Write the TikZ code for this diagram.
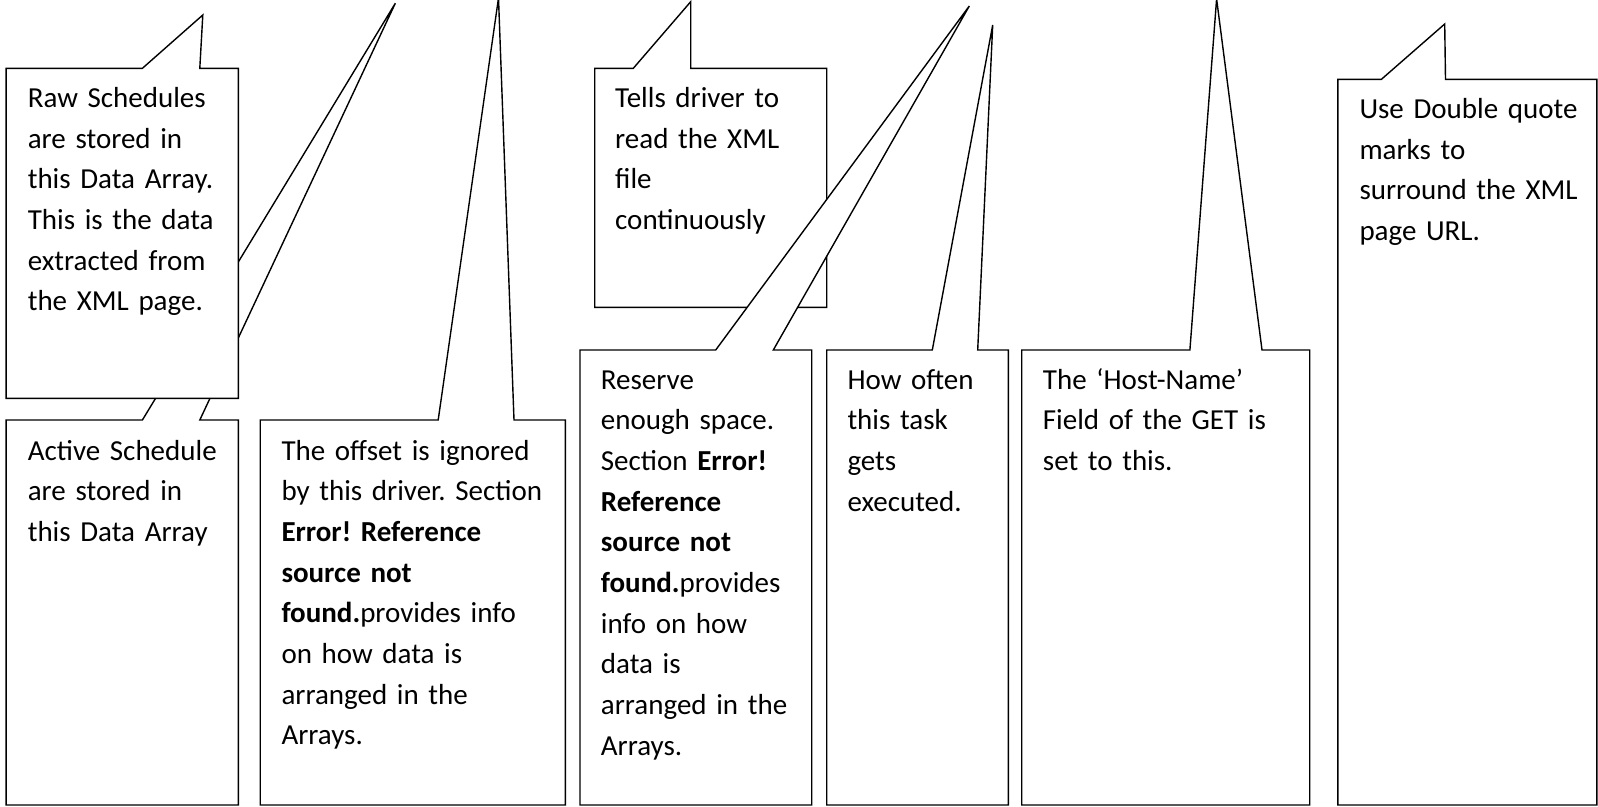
\documentclass[tikz,border=0pt]{standalone}
\usepackage{fontspec}
\setmainfont{Carlito}
\frenchspacing

\tikzset{
  bulle/.style={draw=black, fill=white, line width=1.4pt, line join=miter},
  texte/.style={anchor=base west, inner sep=0pt, align=left, text width=#1,
                font=\fontsize{29}{40.7}\selectfont},
}

\begin{document}
\begin{tikzpicture}[x=1pt, y=-1pt]

 \useasboundingbox (0,0) rectangle (1598,806);

 %%%%%%%%%% Pointes des bulles %%%%%%%%%%
 \coordinate (pActive) at (395.3,3.3);
 \coordinate (pRaw)    at (202.8,15);
 \coordinate (pOffset) at (498.5,-2);
 \coordinate (pTells)  at (690.7,1.7);
 \coordinate (pReserve) at (969.3,6);
 \coordinate (pHow)    at (992.7,25);
 \coordinate (pHost)   at (1216.6,-1);
 \coordinate (pUse)    at (1444.7,24);

 %%%%%%%%%% Active Schedule %%%%%%%%%%
 \draw [bulle] (6.1,420) -- (142.4,420) -- (pActive) -- (199.8,420) -- (238.4,420)
   -- (238.4,805) -- (6.1,805) -- cycle;
 \node [texte=205] (active) at (27.6,460)
   {Active Schedule\\are stored in\\this Data Array};

 %%%%%%%%%% Raw Schedules %%%%%%%%%%
 \draw [bulle] (6.1,68.3) -- (142.4,68.3) -- (pRaw) -- (199.8,68.3) -- (238.4,68.3)
   -- (238.4,398.3) -- (6.1,398.3) -- cycle;
 \node [texte=205] (raw) at (27.6,107.3)
   {Raw Schedules\\are stored in\\this Data Array.\\This is the data\\extracted from\\the XML page.};

 %%%%%%%%%% Offset %%%%%%%%%%
 \draw [bulle] (260.2,420) -- (438.2,420) -- (pOffset) -- (514,420) -- (565.3,420)
   -- (565.3,805) -- (260.2,805) -- cycle;
 \node [texte=280] (offset) at (281.3,460)
   {The offset is ignored\\by this driver. Section\\\textbf{Error! Reference}\\\textbf{source not}\\\textbf{found.}provides info\\on how data is\\arranged in the\\Arrays.};

 %%%%%%%%%% Tells driver %%%%%%%%%%
 \draw [bulle] (594.7,68.3) -- (633.3,68.3) -- (pTells) -- (690.7,68.3) -- (826.7,68.3)
   -- (826.7,307.3) -- (594.7,307.3) -- cycle;
 \node [texte=205] (tells) at (615,107.3)
   {Tells driver to\\read the XML\\file\\continuously};

 %%%%%%%%%% Reserve %%%%%%%%%%
 \draw [bulle] (580,350) -- (715.7,350) -- (pReserve) -- (773.3,350) -- (811.7,350)
   -- (811.7,805) -- (580,805) -- cycle;
 \node [texte=205] (reserve) at (600.7,389)
   {Reserve\\enough space.\\Section \textbf{Error!}\\\textbf{Reference}\\\textbf{source not}\\\textbf{found.}provides\\info on how\\data is\\arranged in the\\Arrays.};

 %%%%%%%%%% How often %%%%%%%%%%
 \draw [bulle] (826.7,350) -- (932.3,350) -- (pHow) -- (977.7,350) -- (1008.3,350)
   -- (1008.3,805) -- (826.7,805) -- cycle;
 \node [texte=158] (how) at (847.3,389)
   {How often\\this task\\gets\\executed.};

 %%%%%%%%%% Host-Name %%%%%%%%%%
 \draw [bulle] (1021.7,350) -- (1189.9,350) -- (pHost) -- (1262,350) -- (1309.7,350)
   -- (1309.7,805) -- (1021.7,805) -- cycle;
 \node [texte=262] (host) at (1042.7,389)
   {The ‘Host-Name’\\Field of the GET is\\set to this.};

 %%%%%%%%%% Double quote %%%%%%%%%%
 \draw [bulle] (1337.9,79.3) -- (1381.4,79.3) -- (pUse) -- (1445.5,79.3) -- (1596.9,79.3)
   -- (1596.9,805) -- (1337.9,805) -- cycle;
 \node [texte=236] (use) at (1359.3,118.3)
   {Use Double quote\\marks to\\surround the XML\\page URL.};

\end{tikzpicture}
\end{document}
